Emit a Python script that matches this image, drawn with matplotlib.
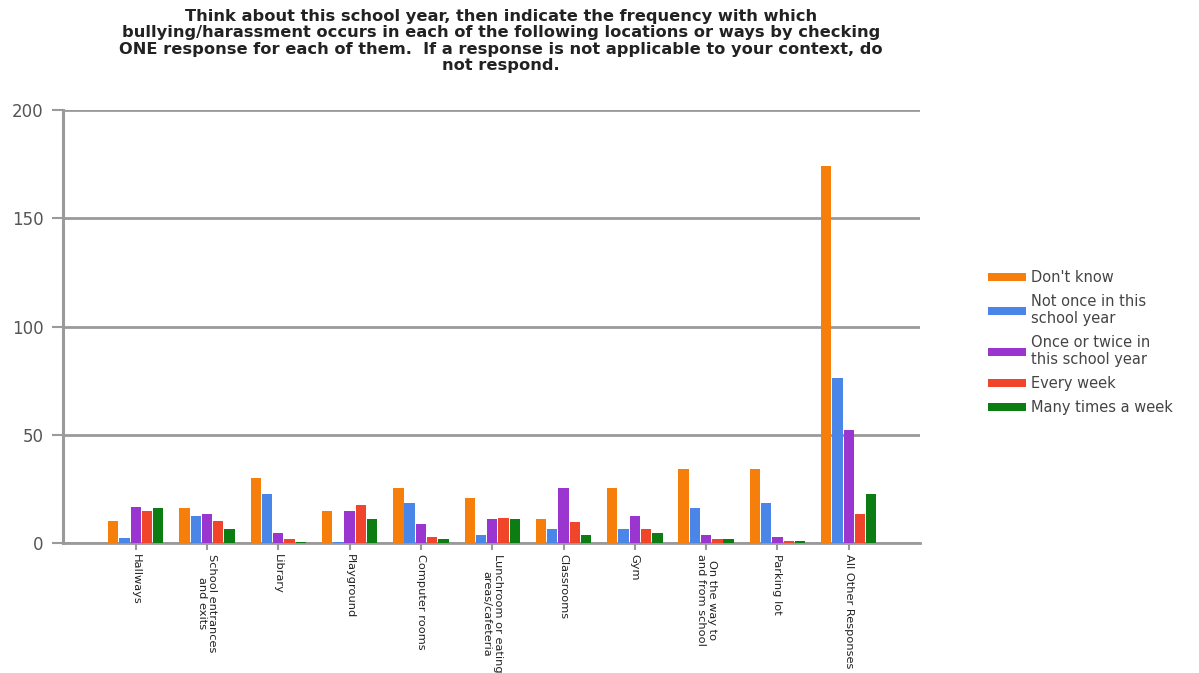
import matplotlib
matplotlib.use("Agg")
import matplotlib.pyplot as plt
import numpy as np

categories = ["Hallways", "School entrances\nand exits", "Library", "Playground",
              "Computer rooms", "Lunchroom or eating\nareas/cafeteria", "Classrooms",
              "Gym", "On the way to\nand from school", "Parking lot", "All Other Responses"]
series_names = ["Don't know", "Not once in this\nschool year",
                "Once or twice in\nthis school year", "Every week", "Many times a week"]
dont_know = [10, 16, 30, 15, 25.5, 21, 11, 25.5, 34, 34, 174]
not_once = [2.5, 12.5, 22.5, 0.5, 18.6, 3.7, 6.3, 6.3, 16, 18.6, 76]
once_twice = [16.6, 13.5, 4.6, 15, 8.6, 11, 25.5, 12.5, 3.7, 2.6, 52]
every_week = [14.8, 10, 2, 17.5, 2.8, 11.4, 9.7, 6.5, 2, 1, 13.5]
many_times = [16, 6.3, 0.5, 11, 1.8, 11, 3.7, 4.5, 2, 1, 22.5]
y_ticks = [0, 50, 100, 150, 200]
title = ("Think about this school year, then indicate the frequency with which\n"
         "bullying/harassment occurs in each of the following locations or ways by checking\n"
         "ONE response for each of them.  If a response is not applicable to your context, do\n"
         "not respond.")

colors = ["#F57F0A", "#4A86E8", "#9B35D0", "#F0452B", "#0B7D12"]
series = [dont_know, not_once, once_twice, every_week, many_times]

fig = plt.figure(figsize=(11.99, 6.73), dpi=100)
ax = fig.add_axes([63/1199, 1-543/673, (920-63)/1199, (543-110)/673])

x = np.arange(len(categories))
step = 0.158
width = 0.145
for i, (vals, c, name) in enumerate(zip(series, colors, series_names)):
    ax.bar(x + (i-2)*step, vals, width=width, color=c, label=name, zorder=3)

ax.set_xlim(-1.02, 11.0)
ax.set_ylim(0, 200)
ax.set_yticks(y_ticks)
ax.set_yticklabels([str(v) for v in y_ticks], fontsize=12, color="#555555",
                   family="DejaVu Sans")
ax.yaxis.grid(True, color="#9a9a9a", linewidth=2, zorder=0)
ax.set_axisbelow(True)
for s in ["top", "right"]:
    ax.spines[s].set_visible(False)
ax.spines["left"].set_color("#9a9a9a")
ax.spines["left"].set_linewidth(2.2)
ax.spines["bottom"].set_color("#9a9a9a")
ax.spines["bottom"].set_linewidth(2)
ax.tick_params(axis="y", length=8, width=1.5, color="#9a9a9a", pad=6)
ax.tick_params(axis="x", length=5, width=1.5, color="#9a9a9a", pad=3)

ax.set_xticks(x)
ax.set_xticklabels(categories, rotation=270, ha="center", va="top",
                   fontsize=8.2, family="DejaVu Sans", color="#222222",
                   linespacing=1.1)

fig.text(0.418, 1-9/673, title, ha="center", va="top", fontsize=11.7,
         fontweight="bold", family="DejaVu Sans", color="#222222", linespacing=1.12)

leg = fig.legend(loc="upper left", bbox_to_anchor=(975/1199, 1-257/673),
                 frameon=False, fontsize=10.5, handlelength=2.6, handleheight=0.5,
                 labelspacing=0.6, handletextpad=0.35)
for t in leg.get_texts():
    t.set_color("#444444")
    t.set_family("DejaVu Sans")

fig.savefig("out.png", dpi=100)
